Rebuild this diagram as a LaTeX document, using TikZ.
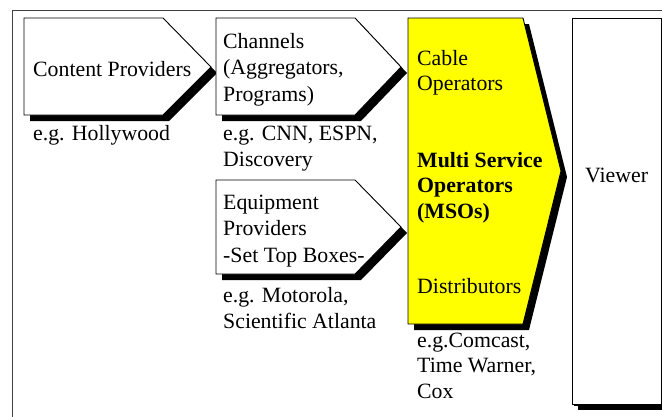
\documentclass[tikz,border=0pt]{standalone}
\usepackage{fontspec}
\setmainfont{Liberation Serif}
\usetikzlibrary{shadows}
\definecolor{msoyellow}{RGB}{255,255,0}

\begin{document}
\begin{tikzpicture}[x=1pt, y=1pt,
  stage/.style={draw=black, line width=0.9pt, fill=white,
    drop shadow={shadow xshift=6pt, shadow yshift=-6pt,
      fill=black, opacity=1}},
  boxtext/.style={anchor=base west, align=left, inner sep=0pt,
    font=\fontsize{21.8}{26.5}\selectfont},
  example/.style={boxtext,
    font=\fontsize{21.8}{26}\selectfont}]
  \clip (0,0) rectangle (662,-416);

  % outer frame
  \draw[line width=1pt, black!75] (12,-10) rectangle (720,-460);

  % content providers
  \draw[stage] (24,-18) -- (163,-18) -- (211,-67)
    -- (163,-115) -- (24,-115) -- cycle;
  \node[boxtext] (content) at (33,-76) {Content Providers};
  \node[example] (hollywood) at (33,-140) {e.g. Hollywood};

  % channels (base = last line)
  \draw[stage] (216,-18) -- (355,-18) -- (401,-67)
    -- (355,-115) -- (216,-115) -- cycle;
  \node[boxtext] (channels) at (223,-101)
    {Channels\\(Aggregators,\\Programs)};
  \node[example] (cnn) at (223,-166)
    {e.g. CNN, ESPN,\\Discovery};

  % equipment providers
  \draw[stage] (216,-180) -- (355,-180) -- (401,-227)
    -- (355,-274) -- (216,-274) -- cycle;
  \node[boxtext] (equipment) at (223,-262)
    {Equipment\\Providers\\-Set Top Boxes-};
  \node[example] (motorola) at (223,-328)
    {e.g. Motorola,\\Scientific Atlanta};

  % multi service operators
  \draw[stage, fill=msoyellow] (408,-18) -- (523,-18) -- (561,-171)
    -- (523,-324) -- (408,-324) -- cycle;
  \node[boxtext, font=\fontsize{21.8}{25.5}\selectfont] (mso) at (417,-293)
    {Cable\\Operators\\[51pt]
     \textbf{Multi Service}\\\textbf{Operators}\\\textbf{(MSOs)}\\[49.5pt]
     Distributors};
  \node[example, font=\fontsize{21.8}{25.5}\selectfont] (comcast) at (417,-398)
    {e.g.Comcast,\\Time Warner,\\Cox};

  % viewer
  \draw[stage, drop shadow={shadow xshift=1.5pt, shadow yshift=-1.5pt,
      fill=black, opacity=1}] (572,-18) rectangle (661,-404);
  \node[boxtext] (viewer) at (585,-182) {Viewer};

\end{tikzpicture}
\end{document}
